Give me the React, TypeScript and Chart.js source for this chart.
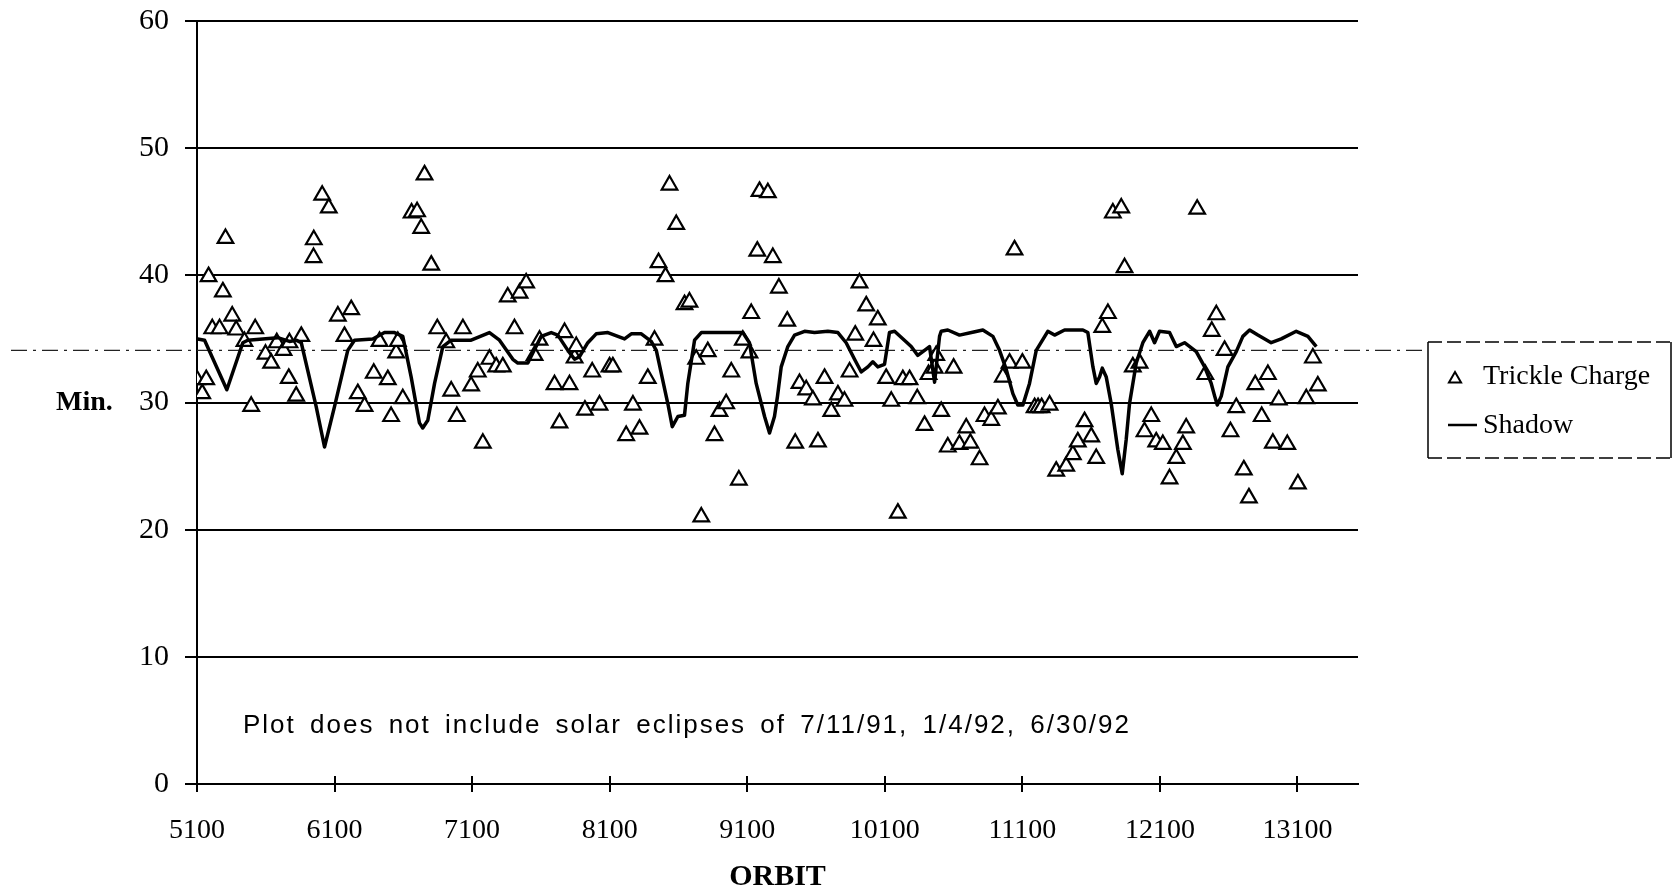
import React, { useEffect, useRef } from "react";
import { Chart, registerables } from "chart.js";

Chart.register(...registerables);

// ---- data (orbit number, minutes) ----
const trickleOrbit = [
  5099, 5138, 5167, 5184, 5211, 5264, 5288, 5307, 5356, 5385, 5445, 5494, 5523, 5598, 5639, 5680,
  5729, 5767, 5772, 5821, 5858, 5947, 5949, 6010, 6058, 6124, 6172, 6221, 6269, 6318, 6385, 6427,
  6487, 6511, 6548, 6560, 6596, 6660, 6700, 6730, 6754, 6803, 6847, 6912, 6948, 6989, 7033, 7093,
  7141, 7178, 7226, 7275, 7323, 7359, 7408, 7445, 7493, 7554, 7590, 7699, 7735, 7772, 7808, 7845, 7857,
  7920, 7973, 8026, 8099, 8123, 8220, 8269, 8317, 8377, 8426, 8455, 8506, 8535, 8584, 8644, 8680,
  8729, 8766, 8813, 8862, 8898, 8947, 8984, 9039, 9068, 9116, 9129, 9173, 9189, 9250, 9286, 9330,
  9391, 9449, 9480, 9529, 9577, 9614, 9662, 9711, 9759, 9807, 9844, 9885, 9916, 9965, 10018, 10049,
  10110, 10147, 10195, 10231, 10280, 10336, 10389, 10418, 10462, 10474, 10510, 10558, 10600, 10643, 10692, 10722, 10789,
  10825, 10874, 10922, 10958, 11007, 11043, 11100, 11189, 11214, 11240, 11298, 11346, 11419, 11467, 11503, 11552,
  11601, 11637, 11681, 11722, 11758, 11819, 11843, 11903, 11952, 11988, 12037, 12073, 12121, 12170, 12219, 12267,
  12291, 12371, 12430, 12477, 12510, 12570, 12613, 12655, 12710, 12747, 12793, 12840, 12885, 12921, 12964, 13026,
  13103, 13164, 13212, 13248,
];

const trickleMin = [
  31.8, 30.7, 31.8, 39.9, 35.8, 35.8, 38.7, 42.9, 36.8, 35.7, 34.8, 29.7, 35.8, 33.8, 33.1, 34.7,
  34.1, 31.9, 34.7, 30.5, 35.2, 41.4, 42.8, 46.3, 45.3, 36.8, 35.2, 37.3, 30.7, 29.7, 32.3, 34.8,
  31.8, 28.9, 33.9, 34.8, 30.3, 44.9, 45.0, 43.7, 47.9, 40.8, 35.8, 34.7, 30.9, 28.9, 35.8, 31.3,
  32.4, 26.8, 33.4, 32.8, 32.8, 38.3, 35.8, 38.6, 39.4, 33.7, 34.9, 31.4, 28.4, 35.5, 31.4, 33.5, 34.4,
  29.4, 32.4, 29.8, 32.8, 32.8, 27.4, 29.8, 27.9, 31.9, 34.9, 41.0, 39.9, 47.1, 44.0, 37.7, 37.9,
  33.4, 21.0, 34.0, 27.4, 29.3, 29.9, 32.4, 23.9, 34.9, 33.9, 37.0, 41.9, 46.6, 46.5, 41.4, 39.0,
  36.4, 26.8, 31.5, 31.0, 30.2, 26.9, 31.9, 29.3, 30.6, 30.1, 32.4, 35.3, 39.4, 37.6, 34.8, 36.5,
  31.9, 30.1, 21.3, 31.8, 31.8, 30.3, 28.2, 32.2, 32.7, 33.7, 29.3, 26.5, 32.7, 26.7, 28.0, 26.8, 25.5,
  28.9, 28.6, 29.5, 32.0, 33.1, 42.0, 33.1, 29.6, 29.6, 29.6, 29.8, 24.6, 25.0, 25.9, 26.9, 28.5,
  27.3, 25.6, 35.9, 37.0, 44.9, 45.3, 40.6, 32.8, 33.1, 27.7, 28.9, 26.9, 26.7, 24.0, 25.6, 26.7,
  28.0, 45.2, 32.2, 35.6, 36.9, 34.1, 27.7, 29.6, 24.7, 22.5, 31.4, 28.9, 32.2, 26.8, 30.2, 26.7,
  23.6, 30.3, 33.5, 31.3,
];

const shadowOrbit = [
  5105, 5155, 5317, 5433, 5469, 5687, 5772, 5821, 5858, 5966, 6027, 6100, 6196, 6245, 6378, 6463,
  6536, 6596, 6657, 6717, 6741, 6778, 6827, 6887, 6948, 7093, 7226, 7299, 7396, 7432, 7505, 7541,
  7602, 7675, 7723, 7796, 7845, 7881, 7941, 8002, 8087, 8208, 8257, 8330, 8402, 8439, 8523, 8555,
  8596, 8644, 8668, 8717, 8766, 9068, 9116, 9165, 9226, 9262, 9298, 9320, 9347, 9395, 9444, 9517,
  9589, 9686, 9759, 9819, 9880, 9929, 9977, 10013, 10049, 10098, 10134, 10171, 10292, 10340, 10389, 10425,
  10462, 10498, 10510, 10558, 10643, 10730, 10813, 10886, 10934, 10983, 11031, 11067, 11104, 11152, 11201, 11285,
  11334, 11407, 11540, 11576, 11613, 11637, 11661, 11681, 11710, 11746, 11794, 11826, 11855, 11879, 11928, 11976,
  12025, 12061, 12097, 12170, 12219, 12279, 12364, 12425, 12473, 12498, 12517, 12546, 12594, 12655, 12703, 12752,
  12812, 12909, 12982, 13091, 13176, 13237,
];

const shadowMin = [
  35.0, 34.9, 31.0, 34.7, 34.9, 35.1, 34.8, 34.9, 34.7, 29.7, 26.5, 29.7, 34.1, 34.9, 35.0, 35.5,
  35.5, 35.2, 32.0, 28.4, 28.0, 28.6, 31.5, 34.4, 34.9, 34.9, 35.5, 34.9, 33.4, 33.1, 33.1, 33.9,
  35.2, 35.5, 35.3, 34.1, 33.4, 33.6, 34.7, 35.4, 35.5, 35.0, 35.4, 35.4, 34.8, 34.1, 29.9, 28.1,
  28.9, 29.0, 31.5, 34.9, 35.5, 35.5, 34.7, 31.5, 28.9, 27.6, 28.9, 30.5, 32.8, 34.4, 35.3, 35.6,
  35.5, 35.6, 35.5, 34.7, 33.4, 32.4, 32.8, 33.2, 32.8, 33.0, 35.5, 35.6, 34.4, 33.7, 34.1, 34.4,
  31.6, 35.2, 35.6, 35.7, 35.3, 35.5, 35.7, 35.2, 34.1, 32.6, 30.7, 29.8, 29.8, 31.5, 34.1, 35.6,
  35.3, 35.7, 35.7, 35.5, 32.8, 31.5, 32.0, 32.7, 32.0, 29.9, 26.3, 24.4, 27.1, 29.9, 33.1, 34.7,
  35.6, 34.7, 35.6, 35.5, 34.4, 34.7, 34.0, 32.8, 31.5, 30.5, 29.8, 30.5, 32.8, 34.0, 35.2, 35.7,
  35.3, 34.7, 35.0, 35.6, 35.2, 34.4,
];

const xTickValues = [5100, 6100, 7100, 8100, 9100, 10100, 11100, 12100, 13100];
const yTickValues = [0, 10, 20, 30, 40, 50, 60];
const xMin = 5100;
const xMax = 13540;
const yMin = 0;
const yMax = 60;
const referenceMinutes = 34.1;

const seriesNames = ["Trickle Charge", "Shadow"];
const xTitle = "ORBIT";
const yLabel = "Min.";
const footNote = "Plot does not include solar eclipses of 7/11/91, 1/4/92, 6/30/92";

const SERIF = "'Liberation Serif', 'Times New Roman', serif";
const SANS = "'Liberation Sans', Arial, sans-serif";

const decorPlugin = {
  id: "decor",
  beforeDatasetsDraw(chart: any) {
    const { ctx, chartArea, scales } = chart;
    const y = scales.y.getPixelForValue(referenceMinutes);
    ctx.save();
    // dash-dot reference line
    ctx.strokeStyle = "#222";
    ctx.lineWidth = 1.3;
    ctx.setLineDash([16, 6, 3, 6]);
    ctx.beginPath();
    ctx.moveTo(11, y);
    ctx.lineTo(1428, y);
    ctx.stroke();
    ctx.setLineDash([]);
    // x tick marks above the axis
    ctx.strokeStyle = "#000";
    ctx.lineWidth = 2;
    for (const v of xTickValues) {
      const px = Math.round(scales.x.getPixelForValue(v));
      ctx.beginPath();
      ctx.moveTo(px, chartArea.bottom);
      ctx.lineTo(px, chartArea.bottom - 8);
      ctx.stroke();
    }
    ctx.restore();
  },
  afterDraw(chart: any) {
    const { ctx, scales } = chart;
    ctx.save();
    ctx.fillStyle = "#000";
    // y label "Min."
    ctx.font = `bold 28px ${SERIF}`;
    ctx.textBaseline = "middle";
    ctx.textAlign = "left";
    ctx.fillText(yLabel, 56, scales.y.getPixelForValue(30));

    // foot note
    ctx.font = `26px ${SANS}`;
    (ctx as any).letterSpacing = "2px";
    (ctx as any).wordSpacing = "5px";
    ctx.fillText(footNote, 243, 726);
    (ctx as any).letterSpacing = "0px";
    (ctx as any).wordSpacing = "0px";

    // legend box
    ctx.strokeStyle = "#000";
    ctx.lineWidth = 1.5;
    ctx.setLineDash([14, 5]);
    ctx.beginPath();
    ctx.moveTo(1428, 342);
    ctx.lineTo(1671, 342);
    ctx.moveTo(1428, 458);
    ctx.lineTo(1671, 458);
    ctx.stroke();
    ctx.setLineDash([]);
    ctx.beginPath();
    ctx.moveTo(1428, 342);
    ctx.lineTo(1428, 458);
    ctx.moveTo(1671, 342);
    ctx.lineTo(1671, 458);
    ctx.stroke();

    // legend marker: triangle
    const tx = 1455, ty = 379, r = 7;
    ctx.lineWidth = 2;
    ctx.beginPath();
    ctx.moveTo(tx, ty - r);
    ctx.lineTo(tx + r * 0.866, ty + r / 2);
    ctx.lineTo(tx - r * 0.866, ty + r / 2);
    ctx.closePath();
    ctx.fillStyle = "#fff";
    ctx.fill();
    ctx.stroke();
    // legend marker: line
    ctx.lineWidth = 2.5;
    ctx.beginPath();
    ctx.moveTo(1448, 425);
    ctx.lineTo(1477, 425);
    ctx.stroke();

    ctx.fillStyle = "#000";
    ctx.font = `28px ${SERIF}`;
    ctx.textBaseline = "alphabetic";
    ctx.fillText(seriesNames[0], 1483, 384);
    ctx.fillText(seriesNames[1], 1483, 433);
    ctx.restore();
  },
};

export default function App() {
  const canvasRef = useRef<HTMLCanvasElement | null>(null);

  useEffect(() => {
    const canvas = canvasRef.current;
    if (!canvas) return;
    const trickle = trickleOrbit.map((x, i) => ({ x, y: trickleMin[i] }));
    const shadow = shadowOrbit.map((x, i) => ({ x, y: shadowMin[i] }));

    const chart = new Chart(canvas, {
      type: "scatter",
      data: {
        datasets: [
          {
            label: seriesNames[1],
            type: "line",
            data: shadow,
            borderColor: "#000",
            borderWidth: 3.5,
            borderJoinStyle: "round",
            pointRadius: 0,
            tension: 0,
            fill: false,
          } as any,
          {
            label: seriesNames[0],
            data: trickle,
            pointStyle: "triangle",
            pointRadius: 9,
            pointBorderWidth: 2.2,
            borderColor: "#000",
            backgroundColor: "#fff",
            pointBackgroundColor: "#fff",
            pointBorderColor: "#000",
          },
        ],
      },
      options: {
        responsive: false,
        animation: false,
        events: [],
        layout: { padding: { left: 0, top: 21, right: 316, bottom: 0 } },
        plugins: {
          legend: { display: false },
          tooltip: { enabled: false },
          title: { display: false },
        },
        scales: {
          x: {
            type: "linear",
            min: xMin,
            max: xMax,
            afterBuildTicks: (s: any) => {
              s.ticks = xTickValues.map((v) => ({ value: v }));
            },
            afterFit: (s: any) => {
              s.height = 111;
              s.paddingLeft = 0;
              s.paddingRight = 0;
            },
            grid: {
              drawOnChartArea: false,
              drawTicks: true,
              tickLength: 8,
              color: "#000",
              lineWidth: 2,
            },
            border: { display: true, color: "#000", width: 2 },
            ticks: {
              color: "#000",
              padding: 22,
              maxRotation: 0,
              autoSkip: false,
              font: { family: SERIF, size: 28 },
              callback: (v: any) => String(v),
            },
            title: {
              display: true,
              text: xTitle,
              color: "#000",
              padding: { top: 0, bottom: 0 },
              font: { family: SERIF, size: 30, weight: "bold" },
            },
          },
          y: {
            type: "linear",
            min: yMin,
            max: yMax,
            afterBuildTicks: (s: any) => {
              s.ticks = yTickValues.map((v) => ({ value: v }));
            },
            afterFit: (s: any) => {
              s.width = 197;
              s.paddingTop = 0;
              s.paddingBottom = 0;
            },
            grid: {
              drawOnChartArea: true,
              drawTicks: true,
              tickLength: 12,
              color: "#000",
              lineWidth: 2,
            },
            border: { display: true, color: "#000", width: 2 },
            ticks: {
              color: "#000",
              padding: 16,
              font: { family: SERIF, size: 30 },
              callback: (v: any) => String(v),
            },
          },
        },
      },
      plugins: [decorPlugin],
    });

    return () => chart.destroy();
  }, []);

  return (
    <div
      style={{
        position: "fixed",
        left: 0,
        top: 0,
        width: 1674,
        height: 895,
        background: "#fff",
      }}
    >
      <canvas ref={canvasRef} width={1674} height={895} style={{ display: "block" }} />
    </div>
  );
}
